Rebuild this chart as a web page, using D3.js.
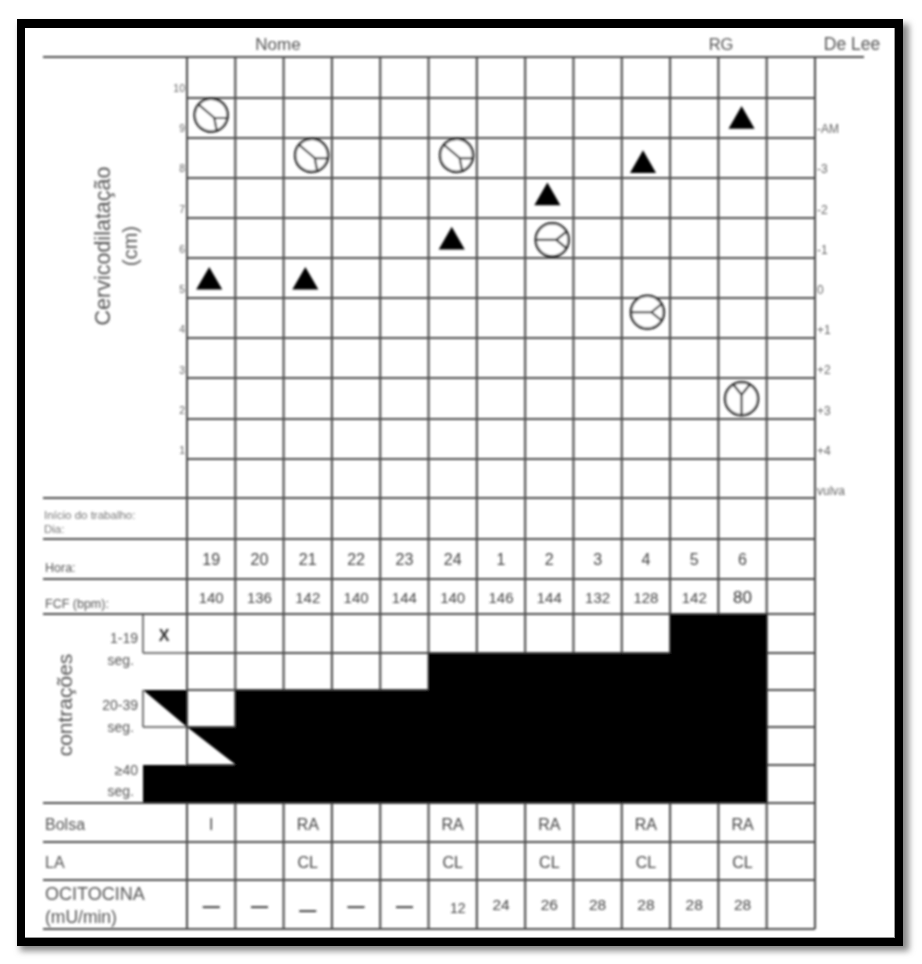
<!DOCTYPE html>
<html><head><meta charset="utf-8">
<style>html,body{margin:0;padding:0;background:#fff}svg{display:block}text{font-family:"Liberation Sans",Arial,sans-serif}</style>
<script src="https://cdn.jsdelivr.net/npm/d3@7"></script></head><body>
<script>
const hours=["19","20","21","22","23","24","1","2","3","4","5","6"];
const fcf=["140","136","142","140","144","140","146","144","132","128","142","80"];
const bolsa=["I","","RA","","","RA","","RA","","RA","","RA"];
const la=["","","CL","","","CL","","CL","","CL","","CL"];
const ocitocina=["—","—","—","—","—","12","24","26","28","28","28","28"];
const dilationTicks=[10,9,8,7,6,5,4,3,2,1];
const deLeeTicks=["-AM","-3","-2","-1","0","+1","+2","+3","+4","vulva"];
const contractionLabels=[["1-19","seg."],["20-39","seg."],["≥40","seg."]];
const filledRows=[1,1,3,3,3,3,4,4,4,4,4,5,5];
const circleHours=[0,2.08,5.08,7.06,9.03,10.98];
const circleDilation=[9.3,8.3,8.3,6.2,4.4,2.25];
const circleAngles=[130,130,130,90,90,0];
const triangleHours=[-0.04,1.95,4.98,6.96,8.94,10.98];
const triangleDilation=[5.15,5.15,6.15,7.25,8.05,9.15];

const W=922,H=964;
const svg=d3.select("body").append("svg").attr("width",W).attr("height",H);
const defs=svg.append("defs");
defs.append("filter").attr("id","soft").attr("x","-5%").attr("y","-5%").attr("width","110%").attr("height","110%")
  .append("feGaussianBlur").attr("stdDeviation",0.95);
defs.append("filter").attr("id","shadow").append("feGaussianBlur").attr("stdDeviation",3);

// frame
svg.append("rect").attr("x",20).attr("y",24).attr("width",889).attr("height",927).attr("fill","#8a8a8a").attr("filter","url(#shadow)");
svg.append("rect").attr("x",17).attr("y",19).attr("width",886).attr("height",927).attr("fill","#000");
svg.append("rect").attr("x",25).attr("y",28).attr("width",870).attr("height",910).attr("fill","#999");
svg.append("rect").attr("x",25).attr("y",28).attr("width",869).attr("height",909).attr("fill","#fff");

const g=svg.append("g").attr("filter","url(#soft)");
const col=d3.scaleLinear().domain([0,13]).range([187,815]);
const cx=d3.scaleLinear().domain([0,1]).range([col(0.5),col(1.5)]);
const yDil=d3.scaleLinear().domain([10,1]).range([87,449]);
const rowYs=[57,98,138,178,218,258,298,338,378,419,459,498,539,579,614,653,690,727,765,803,842,880,929];
const gridColor="#4d4d4d";
const contrRowY=[803,765,727,690,653,614];
const cellX=i=>i===0?143:col(i-1);
const diag=[[143,690,187,727],[187,727,236,765]];

// grid
g.selectAll("line.h").data(rowYs).join("line").attr("class","h")
 .attr("x1",d=>(d>=98&&d<=459)||(d>=653&&d<=765)?187:43)
 .attr("x2",d=>d===57?864:815).attr("y1",d=>d).attr("y2",d=>d)
 .attr("stroke",gridColor).attr("stroke-width",1.8);
g.selectAll("line.v").data(d3.range(14)).join("line").attr("class","v")
 .attr("x1",d=>col(d)).attr("x2",d=>col(d)).attr("y1",57).attr("y2",929)
 .attr("stroke",gridColor).attr("stroke-width",2.1);
[[143,653,187,653],[143,614,143,653],[143,690,143,727],[143,727,187,727]].forEach(l=>
 g.append("line").attr("x1",l[0]).attr("y1",l[1]).attr("x2",l[2]).attr("y2",l[3]).attr("stroke",gridColor).attr("stroke-width",1.5));

// contraction fill
g.selectAll("rect.fill").data(filledRows).join("rect").attr("class","fill")
 .attr("x",(d,i)=>cellX(i)).attr("width",(d,i)=>col(i)-cellX(i)+0.5)
 .attr("y",d=>contrRowY[d]).attr("height",d=>803-contrRowY[d]).attr("fill","#000");
g.selectAll("path.diag").data(diag).join("path").attr("class","diag")
 .attr("d",d=>`M${d[0]},${d[1]}L${d[2]},${d[1]}L${d[2]},${d[3]}Z`).attr("fill","#000");

const txt=(x,y,s,size,anchor="start",fill="#555")=>g.append("text").attr("x",x).attr("y",y).text(s)
 .attr("font-size",size).attr("text-anchor",anchor).style("fill",fill);

txt(278,50,"Nome",17,"middle");
txt(721,50,"RG",16.5,"middle");
txt(852,50,"De Lee",17.5,"middle");

g.selectAll("text.dil").data(dilationTicks).join("text").attr("class","dil")
 .attr("x",185).attr("y",d=>yDil(d)+5).attr("text-anchor","end").attr("font-size",10.5).style("fill","#666").text(d=>d);
g.selectAll("text.dl").data(deLeeTicks).join("text").attr("class","dl")
 .attr("x",817).attr("y",(d,i)=>yDil(10)+(i+1)*40.2+6).attr("font-size",12).style("fill","#666").text(d=>d);

const rot=(x,y,s,size,fill="#555")=>g.append("text").attr("transform",`translate(${x},${y}) rotate(-90)`).text(s)
 .attr("font-size",size).attr("text-anchor","middle").style("fill",fill);
rot(110,246,"Cervicodilatação",21.5);
rot(137,246,"(cm)",20);
rot(72,705,"contrações",21);

txt(44,519,"Início do trabalho:",11.5,"start","#777");
txt(44,533,"Dia:",11.5,"start","#777");
txt(45,572,"Hora:",12.5);
txt(45,608,"FCF (bpm):",12.5);
const labelYs=[[643,665],[710,732],[775,796]];
contractionLabels.forEach((l,i)=>{
  txt(138,labelYs[i][0],l[0],14,"end");
  txt(134,labelYs[i][1],l[1],14,"end");
});
txt(164,641,"X",16,"middle","#333").style("font-weight","bold");

txt(45,830,"Bolsa",16);
txt(45,868,"LA",16);
txt(45,900,"OCITOCINA",18);
txt(45,923,"(mU/min)",17.5);

const rowText=(arr,y,size,fill="#444")=>g.selectAll(null).data(arr).join("text")
 .attr("x",(d,i)=>cx(i)).attr("y",y).attr("text-anchor","middle").attr("font-size",size).style("fill",fill).text(d=>d);
rowText(hours,565,16);
rowText(fcf,603,15).filter(d=>d==="80").attr("font-size",17).style("fill","#333");
rowText(bolsa,830,16);
rowText(la,868,16);
rowText(ocitocina,910,15.5)
 .attr("y",(d,i)=>d==="—"?(i===2?916:912):(d==="12"?913:910))
 .attr("x",(d,i)=>cx(i)+(d==="12"?5:0))
 .attr("font-size",d=>d==="—"?17:(d==="12"?14:15.5))
 .style("fill",d=>d==="—"?"#222":"#444")
 .style("font-weight",d=>d==="—"?"bold":"normal");

// markers
const R=16.5;
const circ=g.selectAll("g.c").data(circleHours).join("g").attr("class","c")
 .attr("transform",(d,i)=>`translate(${cx(d)},${yDil(circleDilation[i])}) rotate(${circleAngles[i]})`);
circ.append("circle").attr("r",R).attr("fill","#fff").attr("stroke","#2a2a2a").attr("stroke-width",2.5);
circ.append("path").attr("d",`M0,${R}L0,-4M0,-4L${-R*0.5},${-R*0.86}M0,-4L${R*0.5},${-R*0.86}`)
 .attr("fill","none").attr("stroke","#2a2a2a").attr("stroke-width",2.1);
g.selectAll("path.t").data(triangleHours).join("path").attr("class","t")
 .attr("d",d3.symbol(d3.symbolTriangle,295))
 .attr("transform",(d,i)=>`translate(${cx(d)},${yDil(triangleDilation[i])})`)
 .attr("fill","#000");
</script></body></html>
